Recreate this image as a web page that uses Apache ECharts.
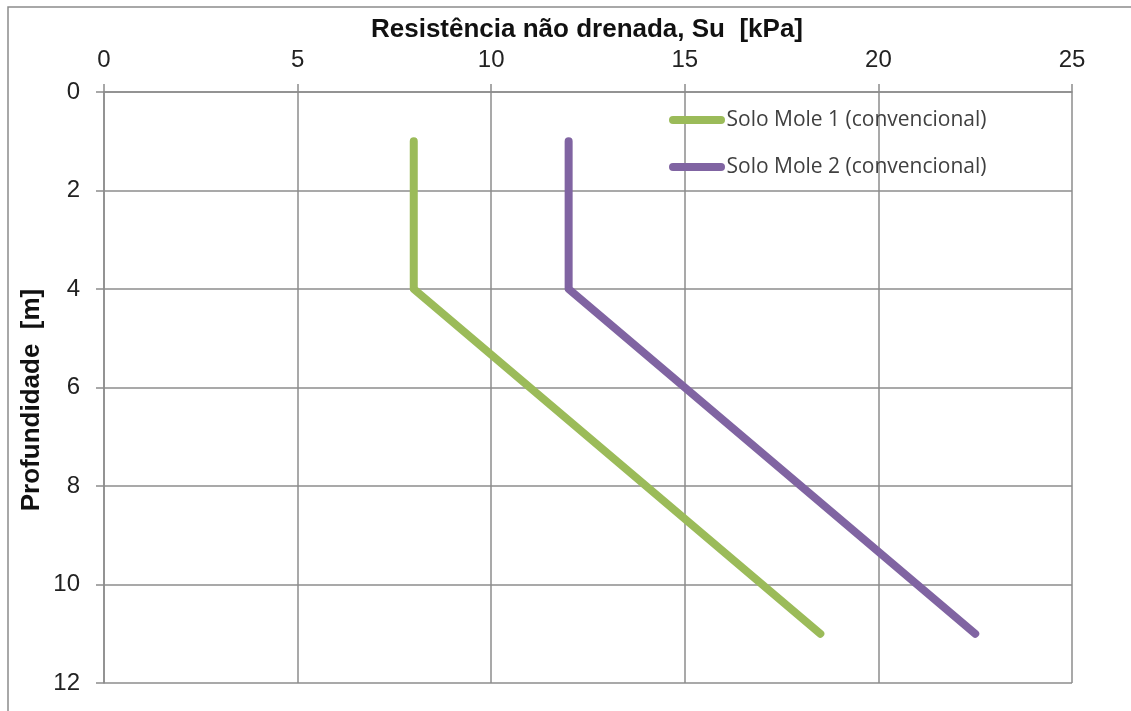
<!DOCTYPE html>
<html>
<head>
<meta charset="utf-8">
<script src="https://cdn.jsdelivr.net/npm/echarts@6/dist/echarts.min.js"></script>
<style>
  html, body { margin: 0; padding: 0; background: #fff; }
  #chart { width: 1131px; height: 711px; }
</style>
</head>
<body>
<div id="chart"></div>
<script>
// Undrained shear strength (kPa) versus depth (m)
const seriesNames = ['Solo Mole 1 (convencional)', 'Solo Mole 2 (convencional)'];
const depth = [1, 4, 11];
const suSolo1 = [8, 8, 18.5];
const suSolo2 = [12, 12, 22.5];
const xTicks = { min: 0, max: 25, interval: 5 };
const yTicks = { min: 0, max: 12, interval: 2 };

const chart = echarts.init(document.getElementById('chart'), null, { renderer: 'canvas' });
const gridColor = '#8c8c8c';
const labelFont = 'Liberation Sans, Arial, sans-serif';

function pairs(xs, ys) { return xs.map((x, i) => [x, ys[i]]); }

chart.setOption({
  animation: false,
  backgroundColor: '#fff',
  graphic: [
    {
      type: 'rect',
      shape: { x: 8, y: 7, width: 1140, height: 720 },
      style: { fill: 'none', stroke: '#8c8c8c', lineWidth: 1.5 },
      silent: true
    },
    {
      // vertical axis title, reading bottom to top
      type: 'text',
      x: 32, y: 400,
      rotation: Math.PI / 2,
      style: {
        text: 'Profundidade  [m]',
        font: 'bold 26px Liberation Sans, Arial, sans-serif',
        fill: '#111',
        align: 'center',
        verticalAlign: 'middle'
      },
      silent: true
    }
  ],
  title: {
    text: 'Resistência não drenada, Su  [kPa]',
    left: 587, top: 17, textAlign: 'center', padding: 0,
    textStyle: { fontFamily: labelFont, fontSize: 26, fontWeight: 'bold', color: '#111' }
  },
  legend: {
    orient: 'vertical',
    left: 664, top: 103,
    itemWidth: 57, itemHeight: 8, itemGap: 23,
    icon: 'path://M4,0 L52,0 A4,4 0 0 1 52,8 L4,8 A4,4 0 0 1 4,0 Z',
    data: seriesNames,
    textStyle: { fontFamily: 'Open Sans, sans-serif', fontSize: 21, color: '#404040', lineHeight: 24, padding: [0, 0, 0, -4] }
  },
  grid: { left: 104, right: 59, top: 92, bottom: 28 },
  xAxis: {
    type: 'value', position: 'top',
    min: xTicks.min, max: xTicks.max, interval: xTicks.interval,
    axisLine: { show: true, lineStyle: { color: gridColor, width: 1.5 } },
    axisTick: { show: true, inside: false, length: 8, lineStyle: { color: gridColor, width: 1.5 } },
    axisLabel: { margin: 20, fontFamily: labelFont, fontSize: 24, color: '#222' },
    splitLine: { show: true, lineStyle: { color: gridColor, width: 1.5 } }
  },
  yAxis: {
    type: 'value', inverse: true,
    min: yTicks.min, max: yTicks.max, interval: yTicks.interval,
    axisLine: { show: true, lineStyle: { color: gridColor, width: 1.5 } },
    axisTick: { show: true, inside: false, length: 8, lineStyle: { color: gridColor, width: 1.5 } },
    axisLabel: { margin: 24, fontFamily: labelFont, fontSize: 24, color: '#222' },
    splitLine: { show: true, lineStyle: { color: gridColor, width: 1.5 } }
  },
  series: [
    {
      name: seriesNames[0], type: 'line', data: pairs(suSolo1, depth),
      showSymbol: false, color: '#9bbb59',
      lineStyle: { width: 8, cap: 'round', join: 'round', color: '#9bbb59' }
    },
    {
      name: seriesNames[1], type: 'line', data: pairs(suSolo2, depth),
      showSymbol: false, color: '#8064a2',
      lineStyle: { width: 8, cap: 'round', join: 'round', color: '#8064a2' }
    }
  ]
});
</script>
</body>
</html>
